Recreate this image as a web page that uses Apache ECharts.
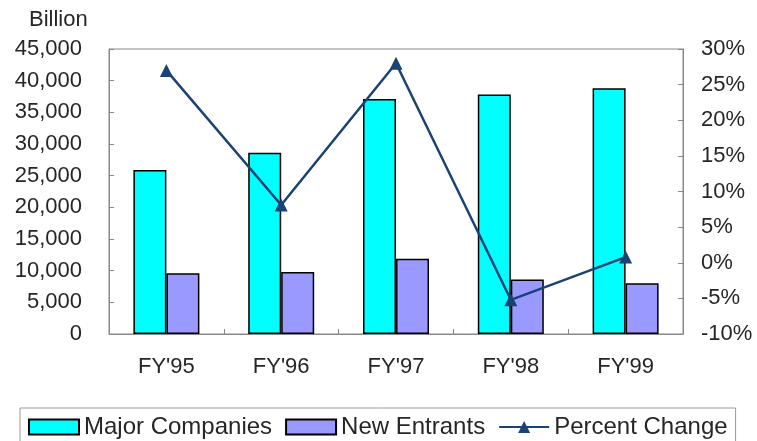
<!DOCTYPE html>
<html><head><meta charset="utf-8">
<script src="https://cdn.jsdelivr.net/npm/echarts@6/dist/echarts.min.js"></script>
<style>html,body{margin:0;padding:0;background:#fff}#c{width:757px;height:441px}</style>
</head><body><div id="c"></div>
<script>
const categories = ["FY'95", "FY'96", "FY'97", "FY'98", "FY'99"];
const majorCompanies = [25900, 28600, 37100, 37800, 38800];
const newEntrants = [9600, 9800, 11900, 8600, 8000];
const percentChange = [27.0, 8.1, 28.0, -5.2, 0.8];
const leftTicks = { min: 0, max: 45000, interval: 5000 };
const rightTicks = { min: -10, max: 30, interval: 5 };

const font = 'Liberation Sans, Arial, sans-serif';
const txt = '#262626';
const chart = echarts.init(document.getElementById('c'));
chart.setOption({
  animation: false,
  textStyle: { fontFamily: font },
  title: { text: 'Billion', left: 24, top: 4, textStyle: { fontFamily: font, fontSize: 22, fontWeight: 'normal', color: txt } },
  grid: { left: 109, right: 74, top: 49, bottom: 107, show: true, borderColor: '#888', borderWidth: 1 },
  legend: {
    left: 20, top: 408,
    padding: [7, 8, 10, 8],
    borderColor: '#999', borderWidth: 1,
    itemWidth: 50, itemHeight: 15, itemGap: 13,
    textStyle: { fontFamily: font, fontSize: 24, color: txt },
    data: [
      { name: 'Major Companies', icon: 'rect' },
      { name: 'New Entrants', icon: 'rect' },
      { name: 'Percent Change' }
    ]
  },
  xAxis: {
    type: 'category', data: categories,
    axisLine: { lineStyle: { color: '#888', width: 1 } },
    axisTick: { show: true, inside: true, length: 5, alignWithLabel: false, lineStyle: { color: '#888' } },
    axisLabel: { fontFamily: font, fontSize: 22, color: txt, margin: 22 }
  },
  yAxis: [
    {
      type: 'value', min: leftTicks.min, max: leftTicks.max, interval: leftTicks.interval,
      axisLine: { show: true, lineStyle: { color: '#888' } },
      axisTick: { show: true, inside: true, length: 5, lineStyle: { color: '#888' } },
      splitLine: { show: false },
      axisLabel: { fontFamily: font, fontSize: 22, color: txt, margin: 27, formatter: v => v.toLocaleString('en-US') }
    },
    {
      type: 'value', min: rightTicks.min, max: rightTicks.max, interval: rightTicks.interval,
      axisLine: { show: true, lineStyle: { color: '#888' } },
      axisTick: { show: true, inside: true, length: 5, lineStyle: { color: '#888' } },
      splitLine: { show: false },
      axisLabel: { fontFamily: font, fontSize: 22, color: txt, margin: 18, formatter: '{value}%' }
    }
  ],
  series: [
    { name: 'Major Companies', type: 'bar', data: majorCompanies, barWidth: 33, barGap: '0%',
      itemStyle: { color: '#00FFFF', borderColor: '#000', borderWidth: 1.5 } },
    { name: 'New Entrants', type: 'bar', data: newEntrants, barWidth: 33, barGap: '0%',
      itemStyle: { color: '#9999FF', borderColor: '#000', borderWidth: 1.5 } },
    { name: 'Percent Change', type: 'line', yAxisIndex: 1, data: percentChange,
      symbol: 'triangle', symbolSize: 13,
      lineStyle: { color: '#1B4275', width: 2.5 },
      itemStyle: { color: '#1B4275' } }
  ]
});
</script></body></html>
